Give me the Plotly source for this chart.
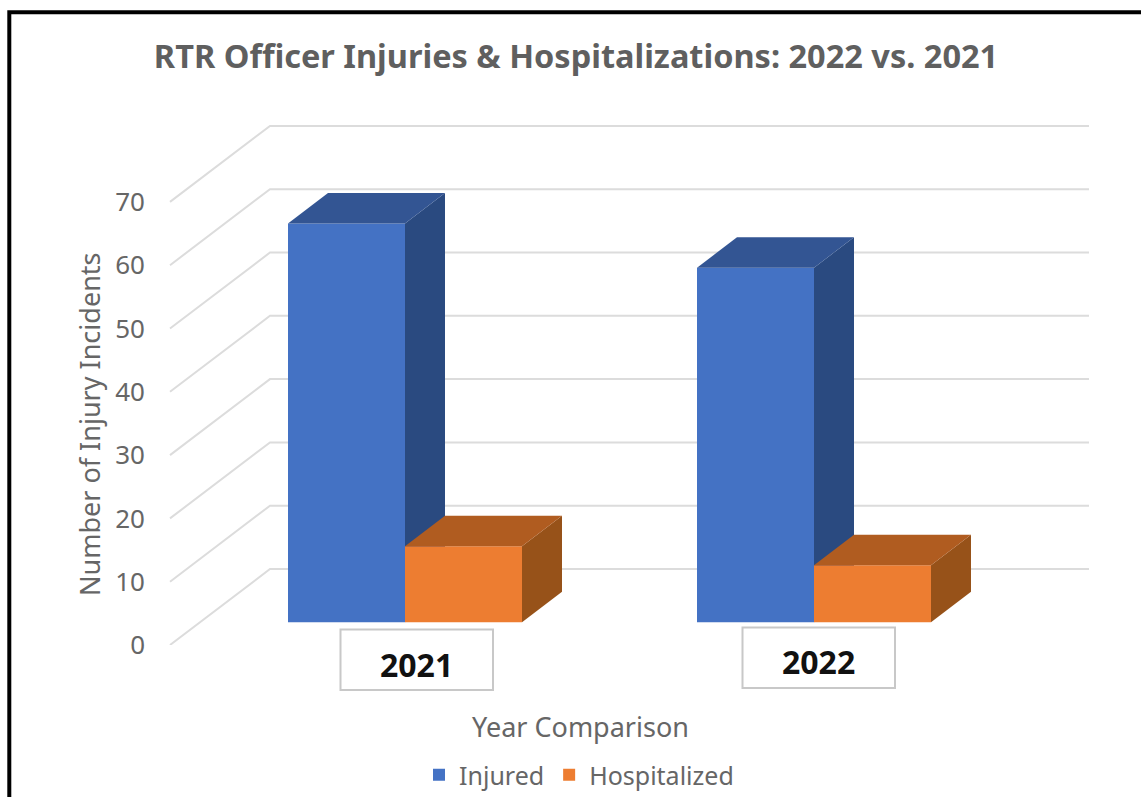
import plotly.graph_objects as go

# ---- data ----
categories = ["2021", "2022"]
injured = [63, 56]
hospitalized = [12, 9]
tick_values = [0, 10, 20, 30, 40, 50, 60, 70]
title_text = "RTR Officer Injuries &amp; Hospitalizations: 2022 vs. 2021"
y_title = "Number of Injury Incidents"
x_title = "Year Comparison"

# ---- styling / geometry ----
W, H = 1141, 797
FONT = "Noto Sans"
TXT = "#666666"
GRID = "#DCDCDC"
BLUE, BLUE_TOP, BLUE_SIDE = "#4472C4", "#335593", "#2A4A80"
ORANGE, ORANGE_TOP, ORANGE_SIDE = "#ED7D31", "#B05C20", "#975219"

PX_PER_CAT = 409.0
X0_PX = 405.0                 # screen position of first category centre
PX_PER_VAL = 6.33
Y0_PX = 645.0                 # screen position of value 0 on the front plane
Y_MAX = 84                    # axis headroom so the raised back wall stays in the plot
DX = 100.0 / PX_PER_CAT       # full depth offset, x axis units
DY = 76.0 / PX_PER_VAL        # full depth offset, y axis units
F0, F1 = 0.30, 0.70           # bar depth span
BAR_W = 117.0 / PX_PER_CAT
WALL_L = (170.0 - X0_PX) / PX_PER_CAT
WALL_R = (1089.0 - X0_PX - 100.0) / PX_PER_CAT


def proj(x, v, f):
    """Project (category x, value v, depth f) on the 2-D axes; x is at depth F0."""
    return x + DX * (f - F0), v + DY * f


def poly(points, color, xa, ya):
    return go.Scatter(x=[p[0] for p in points], y=[p[1] for p in points], mode="lines",
                      fill="toself", fillcolor=color, line=dict(width=0, color=color),
                      xaxis=xa, yaxis=ya, showlegend=False, hoverinfo="skip", cliponaxis=False)


def box_traces(name, values, offset, front, top, side, xa, ya):
    xs = [i + offset for i in range(len(values))]
    base = DY * F0
    out = [go.Bar(name=name, x=xs, y=values, base=[base] * len(values), width=BAR_W,
                  marker=dict(color=front, line=dict(width=0)), xaxis=xa, yaxis=ya,
                  cliponaxis=False, showlegend=True)]
    for x, v in zip(xs, values):
        l, r = x - BAR_W / 2, x + BAR_W / 2
        out.append(poly([proj(r, 0, F0), proj(r, 0, F1), proj(r, v, F1), proj(r, v, F0)], side, xa, ya))
        out.append(poly([proj(l, v, F0), proj(l, v, F1), proj(r, v, F1), proj(r, v, F0)], top, xa, ya))
    return out


def label_box(left, right, top, bottom):
    return dict(type="rect", xref="paper", yref="paper", x0=left / W, x1=right / W,
                y0=1 - bottom / H, y1=1 - top / H,
                line=dict(color="#C8C8C8", width=2), fillcolor="white", layer="below")


fig = go.Figure()

# gridlines: side wall diagonals and back wall rules, one pair per tick value
gx, gy = [], []
for v in tick_values:
    gx += [WALL_L, WALL_L + DX, WALL_R + DX, None]
    gy += [v, v + DY, v + DY, None]
fig.add_trace(go.Scatter(x=gx, y=gy, mode="lines", line=dict(color=GRID, width=2),
                         showlegend=False, hoverinfo="skip", cliponaxis=False))

for t in box_traces("Injured", injured, -BAR_W / 2, BLUE, BLUE_TOP, BLUE_SIDE, "x2", "y2"):
    fig.add_trace(t)
for t in box_traces("Hospitalized", hospitalized, BAR_W / 2, ORANGE, ORANGE_TOP, ORANGE_SIDE, "x3", "y3"):
    fig.add_trace(t)

x_range = [-X0_PX / PX_PER_CAT, (W - X0_PX) / PX_PER_CAT]
y_dom = [(H - Y0_PX) / H, (H - Y0_PX + Y_MAX * PX_PER_VAL) / H]
hidden = dict(visible=False, showgrid=False, zeroline=False)

fig.update_layout(
    width=W, height=H, autosize=False,
    margin=dict(l=0, r=0, t=0, b=0, autoexpand=False),
    paper_bgcolor="white", plot_bgcolor="rgba(0,0,0,0)",
    font=dict(family=FONT, color=TXT),
    barmode="overlay",
    title=dict(text="<b>" + title_text + "</b>", x=576 / W, xanchor="center",
               y=1 - 57 / H, yanchor="middle", font=dict(family=FONT, size=32.5, color="#5F5F5F")),
    xaxis=dict(domain=[0, 1], range=x_range, showgrid=False, zeroline=False,
               showline=False, showticklabels=False, ticks=""),
    yaxis=dict(domain=y_dom, range=[0, Y_MAX], tickvals=tick_values, showgrid=False, zeroline=False,
               showline=False, ticks="", anchor="free", position=145 / W,
               tickfont=dict(size=26, color=TXT)),
    xaxis2=dict(overlaying="x", matches="x", anchor="y2", **hidden),
    yaxis2=dict(overlaying="y", matches="y", anchor="x2", **hidden),
    xaxis3=dict(overlaying="x", matches="x", anchor="y3", **hidden),
    yaxis3=dict(overlaying="y", matches="y", anchor="x3", **hidden),
    legend=dict(orientation="h", x=579 / W, xanchor="center", y=1 - 775 / H, yanchor="middle",
                font=dict(size=25, color=TXT), bgcolor="rgba(0,0,0,0)", itemclick=False,
                itemdoubleclick=False, traceorder="normal"),
    shapes=[dict(type="path", xref="paper", yref="paper", line=dict(color="black", width=4),
                 path=f"M {9.3 / W} 0 L {9.3 / W} {1 - 12.3 / H} L 1 {1 - 12.3 / H}"),
            label_box(340.5, 493, 629.5, 690),
            label_box(742.5, 895, 627.5, 688)],
    annotations=[
        dict(text="<b>%s</b>" % categories[0], xref="paper", yref="paper", x=416 / W, y=1 - 664 / H,
             xanchor="center", yanchor="middle", showarrow=False,
             font=dict(size=32, color="#111111", family=FONT)),
        dict(text="<b>%s</b>" % categories[1], xref="paper", yref="paper", x=818 / W, y=1 - 661 / H,
             xanchor="center", yanchor="middle", showarrow=False,
             font=dict(size=32, color="#111111", family=FONT)),
        dict(text=y_title, xref="paper", yref="paper", x=90 / W, y=1 - 424 / H, textangle=-90,
             xanchor="center", yanchor="middle", showarrow=False, font=dict(size=27, color=TXT)),
        dict(text=x_title, xref="paper", yref="paper", x=580 / W, y=1 - 726 / H,
             xanchor="center", yanchor="middle", showarrow=False, font=dict(size=27, color=TXT)),
    ],
)

fig.write_html("out.html", config={"displayModeBar": False},
               post_script="document.body.style.margin='0';document.body.style.overflow='hidden';")
